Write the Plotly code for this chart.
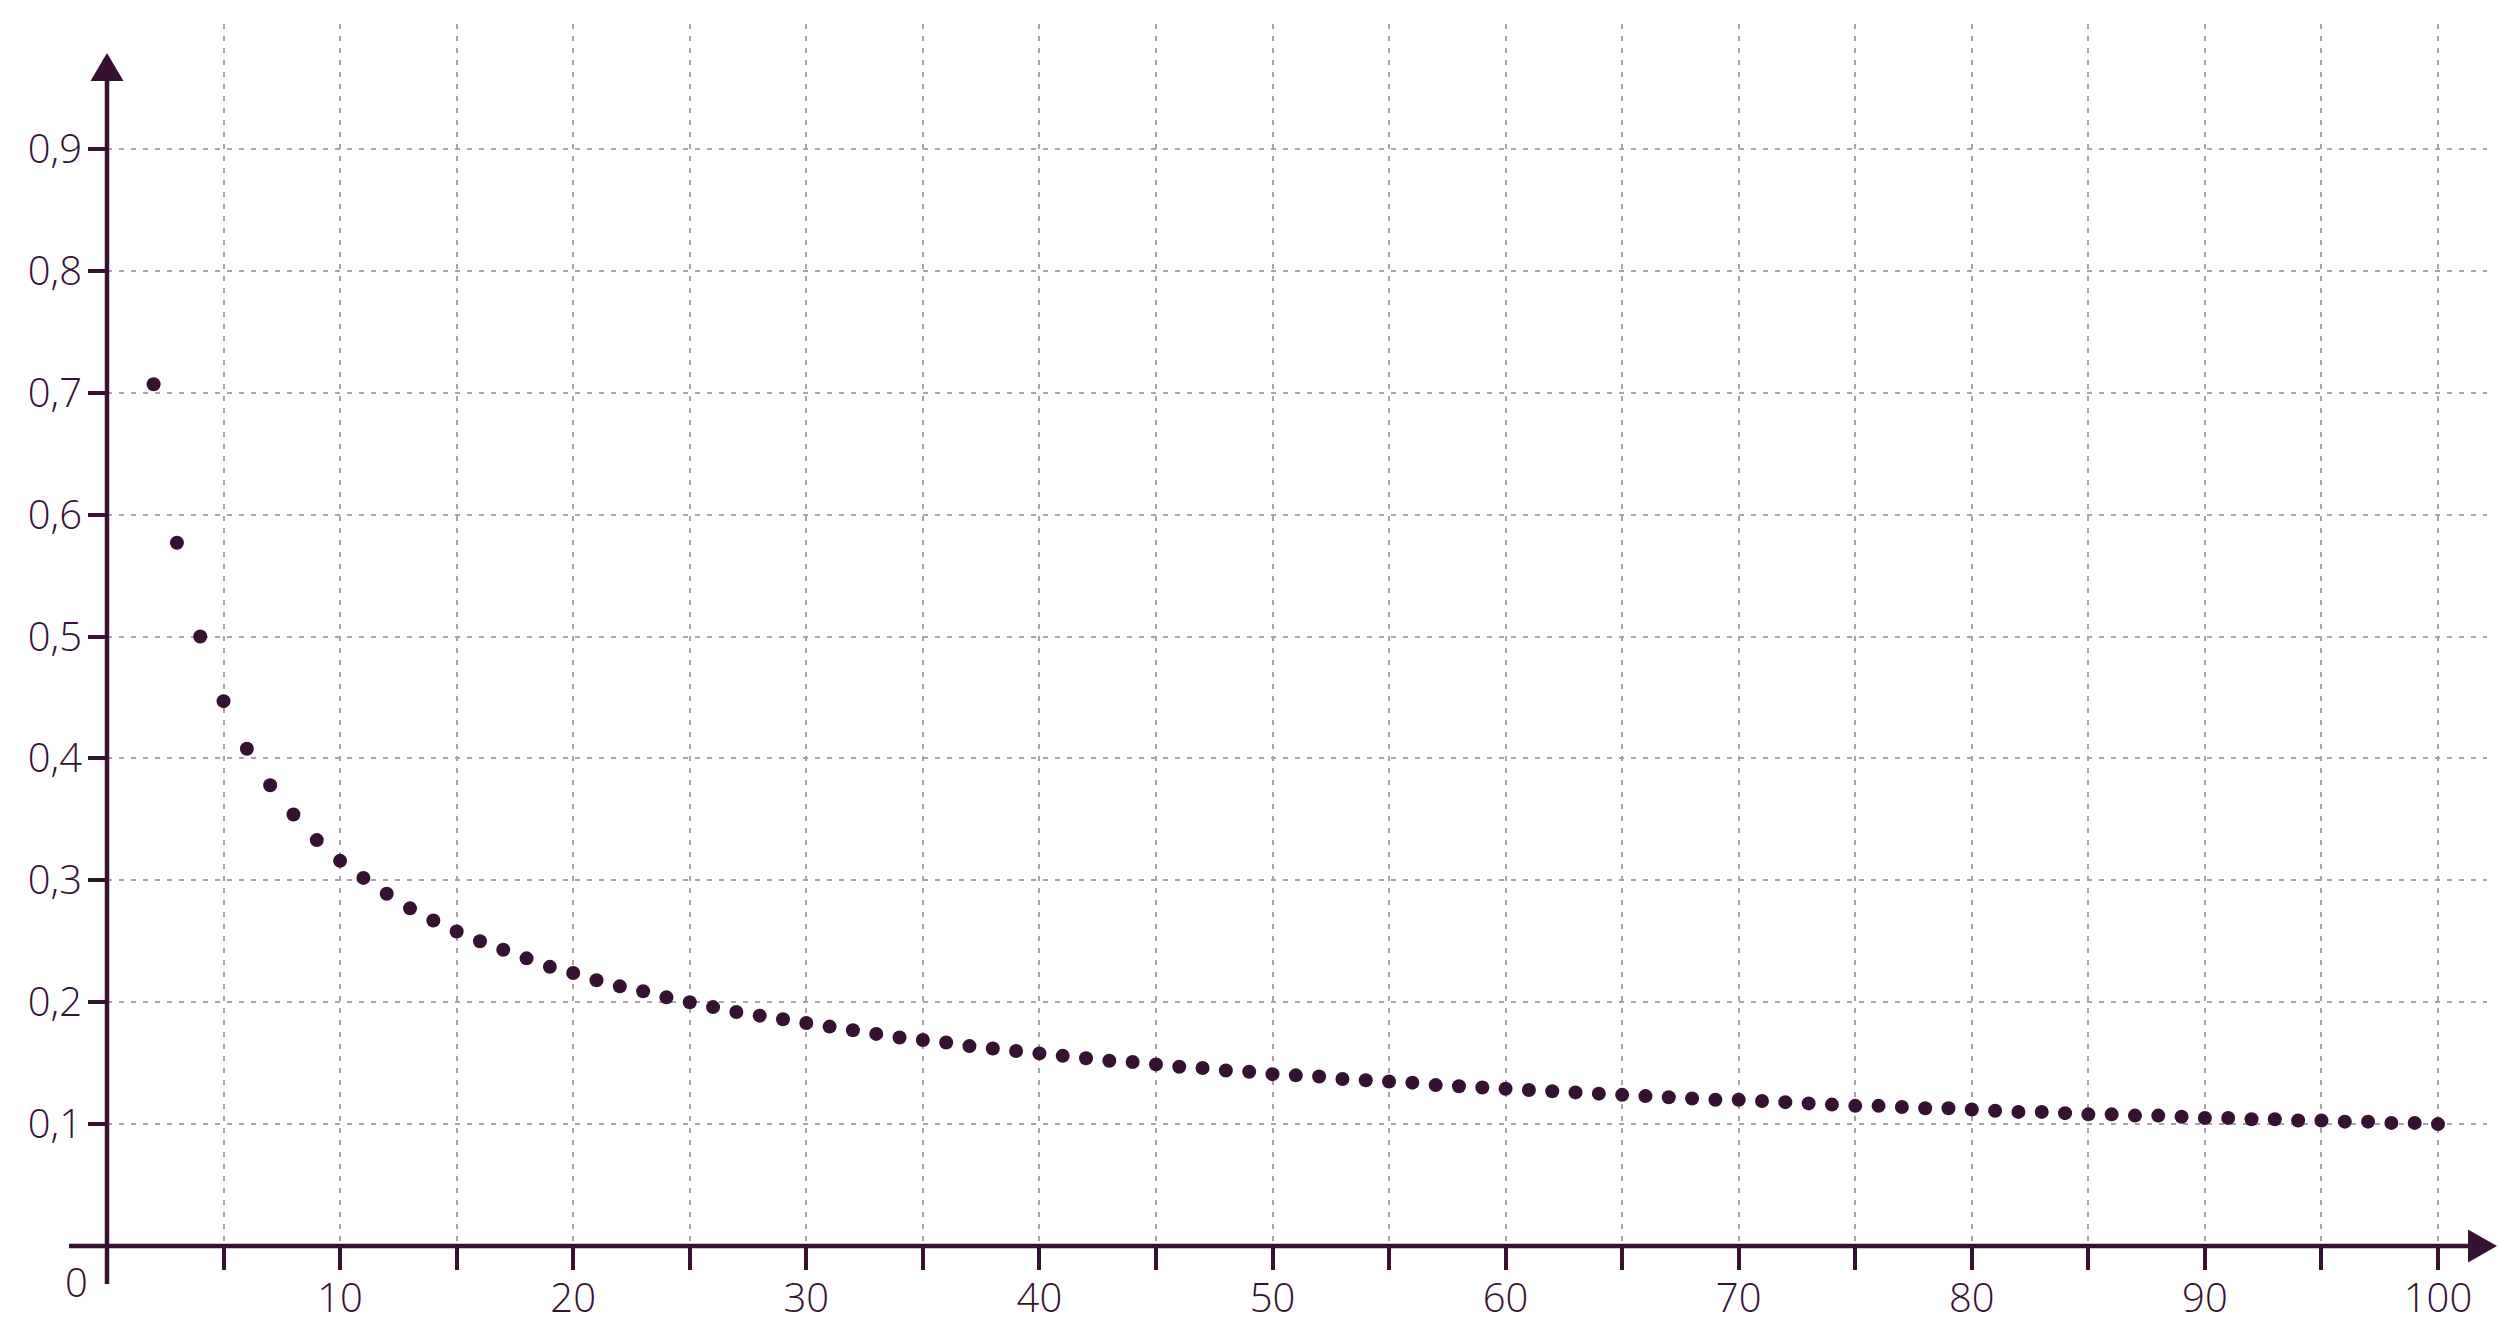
import plotly.graph_objects as go

# ---- data ----
n_values = list(range(2, 101))
proportions = [
    0.707, 0.577, 0.500, 0.447, 0.408, 0.378, 0.354, 0.333, 0.316,
    0.302, 0.289, 0.277, 0.267, 0.258, 0.250, 0.243, 0.236, 0.229, 0.224,
    0.218, 0.213, 0.209, 0.204, 0.200, 0.196, 0.192, 0.189, 0.186, 0.183,
    0.180, 0.177, 0.174, 0.171, 0.169, 0.167, 0.164, 0.162, 0.160, 0.158,
    0.156, 0.154, 0.152, 0.151, 0.149, 0.147, 0.146, 0.144, 0.143, 0.141,
    0.140, 0.139, 0.137, 0.136, 0.135, 0.134, 0.132, 0.131, 0.130, 0.129,
    0.128, 0.127, 0.126, 0.125, 0.124, 0.123, 0.122, 0.121, 0.120, 0.120,
    0.119, 0.118, 0.117, 0.116, 0.115, 0.115, 0.114, 0.113, 0.113, 0.112,
    0.111, 0.110, 0.110, 0.109, 0.108, 0.108, 0.107, 0.107, 0.106, 0.105,
    0.105, 0.104, 0.104, 0.103, 0.103, 0.102, 0.102, 0.101, 0.101, 0.100,
]
x_tick_vals = list(range(5, 101, 5))
x_tick_text = ["" if v % 10 else str(v) for v in x_tick_vals]
y_tick_vals = [0.1, 0.2, 0.3, 0.4, 0.5, 0.6, 0.7, 0.8, 0.9]
y_tick_text = ["0,1", "0,2", "0,3", "0,4", "0,5", "0,6", "0,7", "0,8", "0,9"]

# ---- styling / geometry ----
W, H = 2500, 1342
DARK = "#351232"
GRID = "#ae9fab"
FONT = "Open Sans"
FSIZE = 40

X0_PX, PX_PER_X = 107, 23.31
Y0_PX, PX_PER_Y = 1246, 1218.9
X_RIGHT_PX = 2487
Y_TOP_PX = 24


def px(xp):
    return xp / W


def py(yp):
    return (H - yp) / H


fig = go.Figure()
fig.add_trace(go.Scatter(
    x=n_values, y=proportions, mode="markers",
    marker=dict(size=14, color=DARK, line=dict(width=0)),
    cliponaxis=False, hoverinfo="x+y",
))

x_max = (X_RIGHT_PX - X0_PX) / PX_PER_X
y_max = (Y0_PX - Y_TOP_PX) / PX_PER_Y

tickfont = dict(family=FONT, size=FSIZE, color=DARK, weight=300)

fig.update_layout(
    width=W, height=H,
    margin=dict(l=0, r=0, t=0, b=0),
    paper_bgcolor="white", plot_bgcolor="white",
    showlegend=False,
    font=dict(family=FONT, color=DARK, size=FSIZE),
    xaxis=dict(
        domain=[px(X0_PX), px(X_RIGHT_PX)], range=[0, x_max],
        anchor="free", position=py(Y0_PX),
        tickmode="array", tickvals=x_tick_vals, ticktext=x_tick_text,
        ticks="outside", ticklen=23, tickwidth=4, tickcolor=DARK,
        showline=False, zeroline=False,
        showgrid=True, gridcolor=GRID, gridwidth=2, griddash="5px,7px",
        tickfont=tickfont,
        ticklabelstandoff=-6,
    ),
    yaxis=dict(
        domain=[py(Y0_PX), py(Y_TOP_PX)], range=[0, y_max],
        anchor="free", position=px(X0_PX),
        tickmode="array", tickvals=y_tick_vals, ticktext=y_tick_text,
        ticks="outside", ticklen=19, tickwidth=4, tickcolor=DARK,
        showline=False, zeroline=False,
        showgrid=True, gridcolor=GRID, gridwidth=2, griddash="5px,7px",
        tickfont=tickfont,
        ticklabelstandoff=-2,
    ),
)

shapes = [
    # x axis line
    dict(type="line", xref="paper", yref="paper",
         x0=px(69), x1=px(2470), y0=py(Y0_PX), y1=py(Y0_PX),
         line=dict(color=DARK, width=4.5)),
    # y axis line
    dict(type="line", xref="paper", yref="paper",
         x0=px(X0_PX), x1=px(X0_PX), y0=py(1284), y1=py(79),
         line=dict(color=DARK, width=4.5)),
]
# arrow heads
shapes.append(dict(
    type="path", xref="paper", yref="paper",
    path=f"M {px(2497)} {py(Y0_PX)} L {px(2468)} {py(Y0_PX - 16.5)} L {px(2468)} {py(Y0_PX + 16.5)} Z",
    fillcolor=DARK, line=dict(width=0)))
shapes.append(dict(
    type="path", xref="paper", yref="paper",
    path=f"M {px(X0_PX)} {py(53)} L {px(X0_PX - 16.5)} {py(81)} L {px(X0_PX + 16.5)} {py(81)} Z",
    fillcolor=DARK, line=dict(width=0)))
fig.update_layout(shapes=shapes)

fig.add_annotation(
    xref="paper", yref="paper", x=px(76), y=py(1281),
    text="0", showarrow=False, xanchor="center", yanchor="middle",
    font=tickfont,
)

fig.write_html(
    "out.html",
    config={"displayModeBar": False},
    post_script="document.body.style.margin='0';document.body.style.overflow='hidden';",
)
